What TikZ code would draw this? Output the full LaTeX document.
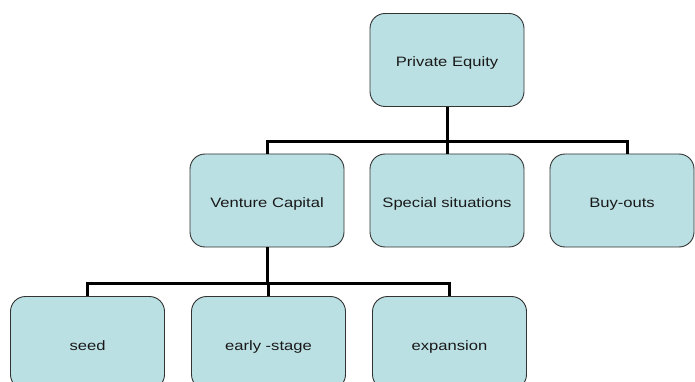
\documentclass[tikz,border=0pt]{standalone}
\usepackage{fontspec}
\newfontfamily\labfont[FakeStretch=1.22]{Liberation Sans}
\definecolor{boxfill}{HTML}{BBE0E3}
\definecolor{boxline}{HTML}{333333}
\begin{document}
\begin{tikzpicture}[x=1pt,y=-1pt,
  box/.style={draw=boxline, line width=0.9pt, fill=boxfill, rounded corners=15pt,
    minimum width=154pt, minimum height=93pt, inner sep=0pt,
    text height=14pt, text depth=0pt,
    font=\labfont\fontsize{13.6pt}{15pt}\selectfont, text=black!90},
  conn/.style={draw=black, line width=3pt}]
\clip (0,0) rectangle (695,382);
\fill[white] (0,0) rectangle (695,382);
\node[box] (PE) at (447,60) {Private Equity};
\node[box] (VC) at (267,200.5) {Venture Capital};
\node[box] (SS) at (447,200.5) {Special situations};
\node[box, minimum width=144pt] (BO) at (622,200.5) {Buy-outs};
\node[box] (SD) at (87.5,343) {seed};
\node[box] (ES) at (268.5,343) {early -stage};
\node[box] (EX) at (449.5,343) {expansion};
\coordinate (b1) at (447,142);
\coordinate (b2) at (267,283);
\draw[conn] (PE.south) -- (b1);
\draw[conn] (VC.north) |- (b1) -| ([xshift=5pt]BO.north);
\draw[conn] (SS.north) -- (SS.north |- b1);
\draw[conn] (VC.south) -- (b2);
\draw[conn] (SD.north) |- (b2) -| (EX.north);
\draw[conn] (ES.north) -- (ES.north |- b2);
\end{tikzpicture}
\end{document}
